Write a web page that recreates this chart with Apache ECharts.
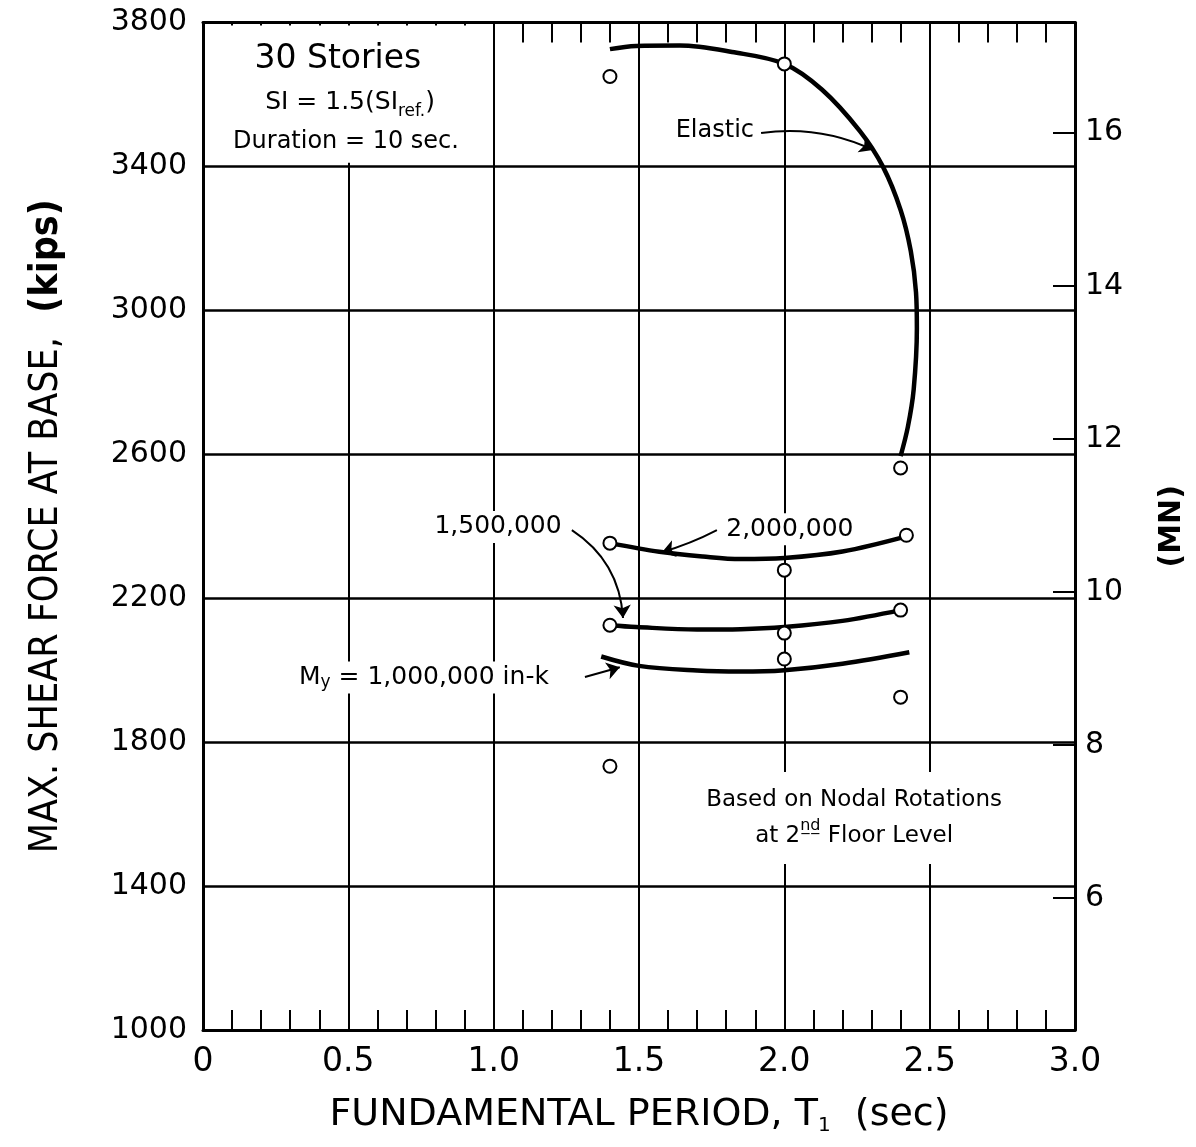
<!DOCTYPE html>
<html>
<head>
<meta charset="utf-8">
<script src="https://cdn.jsdelivr.net/npm/echarts@6/dist/echarts.min.js"></script>
<style>
  html, body { margin: 0; padding: 0; background: #fff; }
  #chart { width: 1196px; height: 1147px; }
</style>
</head>
<body>
<div id="chart"></div>
<script>
// Tick values of the three scales
const periodTicks = [0, 0.5, 1.0, 1.5, 2.0, 2.5, 3.0];
const kipTicks = [1000, 1400, 1800, 2200, 2600, 3000, 3400, 3800];
const mnTicks = [6, 8, 10, 12, 14, 16];
const mnRange = [4.275, 17.44];

// Computed cases: fundamental period T1 (sec) and max base shear (kips)
const casePeriods = [1.4, 2.0, 2.4, 1.4, 2.42, 2.0, 1.4, 2.4, 2.0, 2.0, 2.4, 1.4];
const caseShears  = [3650, 3685, 2562, 2353, 2375, 2278, 2125, 2167, 2103, 2031, 1925, 1733];

// Faired curves
const elasticT = [1.40, 1.49, 1.64, 1.82, 2.00, 2.13, 2.26, 2.34, 2.40, 2.435, 2.453, 2.456, 2.445, 2.425, 2.40];
const elasticV = [3726, 3735, 3736, 3718, 3685, 3613, 3498, 3398, 3279, 3165, 3050, 2950, 2780, 2676, 2595];

const my2000T = [1.40, 1.57, 1.72, 1.85, 2.00, 2.20, 2.42];
const my2000V = [2353, 2329, 2316, 2309, 2312, 2330, 2372];

const my1500T = [1.40, 1.49, 1.70, 1.85, 2.00, 2.20, 2.40];
const my1500V = [2125, 2120, 2113, 2114, 2120, 2137, 2167];

const my1000T = [1.37, 1.50, 1.70, 1.85, 2.00, 2.20, 2.43];
const my1000V = [2038, 2012, 1999, 1996, 2000, 2018, 2050];

// Annotation texts, placed in (period, kips) coordinates
const noteText = [
  '{big|30 Stories}',
  '{t|SI = 1.5(SI}{s|ref.}{t|)}',
  '{m|Duration = 10 sec.}',
  '{m|Elastic}',
  '{l|2,000,000}',
  '{l|1,500,000}',
  '{l|M}{s|y}{l| = 1,000,000 in-k}',
  '{n|Based on Nodal Rotations}\n{n|at 2}{sup|n\u0332d\u0332}{n| Floor Level}'
];
const noteX = [0.464, 0.506, 0.492, 1.761, 2.019, 1.015, 0.760, 2.240];
const noteY = [3696, 3579, 3468, 3498, 2392, 2398, 1980, 1589];
const noteBox = [false, false, false, true, true, true, true, true];

// Leader arrows from labels to curves
const arrowFrom = [[1.920, 3493], [1.768, 2389], [1.269, 2389], [1.314, 1981]];
const arrowTo   = [[2.305, 3446], [1.579, 2328], [1.445, 2145], [1.434, 2008]];
const arrowBend = [0.15, 0.05, 0.25, 0.0];

const INK = '#000';
const FONT = "'DejaVu Sans', 'Liberation Sans', sans-serif";
const NARROW = "'DejaVu Sans Condensed', 'Liberation Sans Narrow', 'DejaVu Sans', sans-serif";

const pairs = (xs, ys) => xs.map((x, i) => [x, ys[i]]);

function curve(name, xs, ys) {
  return {
    name: name,
    type: 'line',
    data: pairs(xs, ys),
    smooth: 0.35,
    showSymbol: false,
    silent: true,
    z: 3,
    lineStyle: { color: INK, width: 4.5, opacity: 1 }
  };
}

const chart = echarts.init(document.getElementById('chart'), null, { renderer: 'canvas' });

const xMin = periodTicks[0], xMax = periodTicks[periodTicks.length - 1];
const xStep = periodTicks[1] - periodTicks[0];
const yMin = kipTicks[0], yMax = kipTicks[kipTicks.length - 1];
const yStep = kipTicks[1] - kipTicks[0];

const richStyles = {
  big: { fontSize: 33, fontFamily: FONT, color: INK, lineHeight: 40 },
  t: { fontSize: 25, fontFamily: FONT, color: INK, lineHeight: 36 },
  s: { fontSize: 17, fontFamily: FONT, color: INK, lineHeight: 14, verticalAlign: 'bottom' },
  m: { fontSize: 24, fontFamily: FONT, color: INK, lineHeight: 32 },
  l: { fontSize: 25, fontFamily: FONT, color: INK, lineHeight: 28 },
  n: { fontSize: 23, fontFamily: FONT, color: INK, lineHeight: 36 },
  sup: { fontSize: 16, fontFamily: FONT, color: INK, lineHeight: 16, verticalAlign: 'top' }
};

const option = {
  backgroundColor: '#fff',
  animation: false,
  grid: { left: 203, right: 121, top: 22.5, bottom: 117, containLabel: false, outerBoundsMode: 'none' },
  xAxis: [
    {
      type: 'value', position: 'bottom', min: xMin, max: xMax, interval: xStep,
      axisLine: { show: true, onZero: false, lineStyle: { color: INK, width: 3 } },
      axisTick: { show: true, inside: true, length: 20, lineStyle: { color: INK, width: 2 } },
      minorTick: { show: true, splitNumber: 5, length: 20, lineStyle: { color: INK, width: 2 } },
      splitLine: { show: true, lineStyle: { color: INK, width: 2 } },
      axisLabel: {
        fontSize: 33, fontFamily: FONT, color: INK, margin: 16,
        formatter: v => (v === 0 ? '0' : v.toFixed(1))
      },
      name: '{a|FUNDAMENTAL PERIOD, T}{s|1}{a|  (sec)}',
      nameLocation: 'middle', nameGap: 64,
      nameTextStyle: {
        rich: {
          a: { fontSize: 38, fontFamily: FONT, color: INK, lineHeight: 42 },
          s: { fontSize: 20, fontFamily: FONT, color: INK, lineHeight: 16, verticalAlign: 'bottom' }
        }
      }
    },
    {
      type: 'value', position: 'top', min: xMin, max: xMax, interval: xStep,
      axisLine: { show: true, onZero: false, lineStyle: { color: INK, width: 3 } },
      axisTick: { show: true, inside: true, length: 20, lineStyle: { color: INK, width: 2 } },
      minorTick: { show: true, splitNumber: 5, length: 20, lineStyle: { color: INK, width: 2 } },
      splitLine: { show: false },
      axisLabel: { show: false }
    }
  ],
  yAxis: [
    {
      type: 'value', position: 'left', min: yMin, max: yMax, interval: yStep,
      axisLine: { show: true, onZero: false, lineStyle: { color: INK, width: 3 } },
      axisTick: { show: false },
      splitLine: { show: true, lineStyle: { color: INK, width: 2.5 } },
      axisLabel: { fontSize: 30, fontFamily: FONT, color: INK, margin: 16, formatter: v => String(v) },
      name: '{a|MAX. SHEAR FORCE AT BASE,}{b|  (kips)}',
      nameLocation: 'middle', nameGap: 137, nameRotate: 90,
      nameTextStyle: {
        rich: {
          a: { fontSize: 39, fontFamily: NARROW, color: INK },
          b: { fontSize: 39, fontFamily: NARROW, color: INK, fontWeight: 'bold' }
        }
      }
    },
    {
      type: 'value', position: 'right', min: mnRange[0], max: mnRange[1],
      axisLine: { show: true, onZero: false, lineStyle: { color: INK, width: 3 } },
      axisTick: { show: true, inside: true, length: 22, customValues: mnTicks, lineStyle: { color: INK, width: 2 } },
      splitLine: { show: false },
      axisLabel: { fontSize: 30, fontFamily: FONT, color: INK, margin: 10, customValues: mnTicks },
      name: '(MN)',
      nameLocation: 'middle', nameGap: 82, nameRotate: 90,
      nameTextStyle: { fontSize: 30, fontFamily: FONT, color: INK, fontWeight: 'bold' }
    }
  ],
  series: [
    curve('Elastic', elasticT, elasticV),
    curve('2,000,000', my2000T, my2000V),
    curve('1,500,000', my1500T, my1500V),
    curve('1,000,000', my1000T, my1000V),
    {
      name: 'Cases',
      type: 'scatter',
      data: pairs(casePeriods, caseShears),
      symbol: 'circle',
      symbolSize: 13,
      silent: true,
      z: 5,
      itemStyle: { color: '#fff', borderColor: INK, borderWidth: 2, opacity: 1 }
    },
    {
      name: 'Leaders',
      type: 'lines',
      coordinateSystem: 'cartesian2d',
      silent: true,
      z: 4,
      symbol: ['none', 'arrow'],
      symbolSize: 13,
      lineStyle: { color: INK, width: 2, opacity: 1 },
      data: arrowFrom.map((p, i) => ({
        coords: [p, arrowTo[i]],
        lineStyle: { curveness: arrowBend[i] }
      }))
    },
    {
      name: 'Notes',
      type: 'scatter',
      symbolSize: 0,
      silent: true,
      z: 6,
      itemStyle: { color: 'rgba(0,0,0,0)', opacity: 1 },
      data: noteText.map((t, i) => ({
        value: [noteX[i], noteY[i]],
        label: {
          show: true,
          position: 'inside',
          formatter: t,
          align: 'center',
          verticalAlign: 'middle',
          color: INK,
          opacity: 1,
          textBorderWidth: 0,
          backgroundColor: noteBox[i] ? '#fff' : 'transparent',
          padding: i === 7 ? [10, 14] : [2, 5],
          rich: richStyles
        }
      })),
      // the title cell in the top-left corner is left without grid lines
      markArea: {
        silent: true,
        itemStyle: { color: '#fff', opacity: 1 },
        data: [[{ coord: [0.01, 3410] }, { coord: [0.99, 3792] }]]
      }
    }
  ]
};

chart.setOption(option);
</script>
</body>
</html>
